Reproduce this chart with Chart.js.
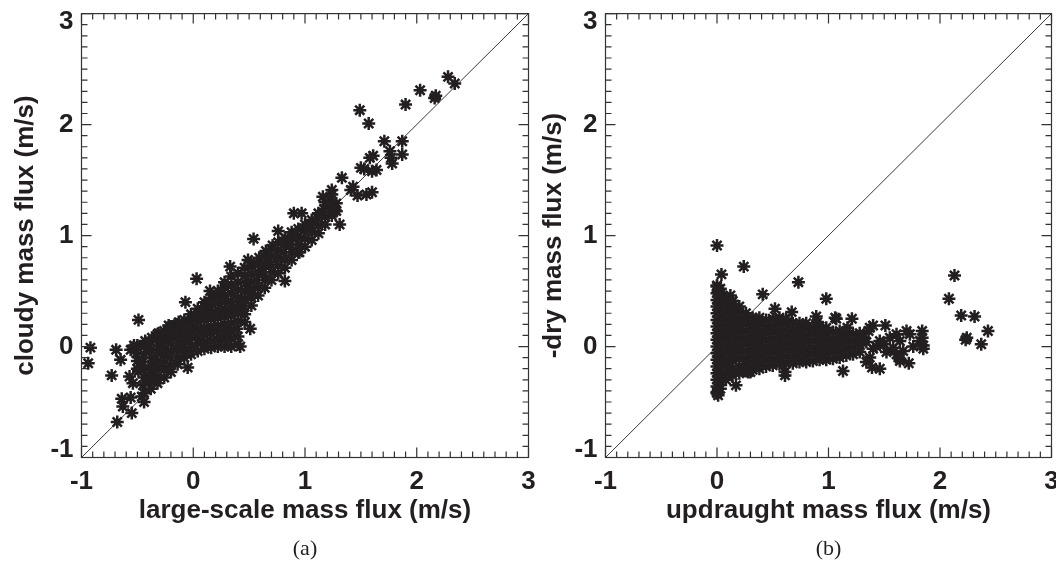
<!DOCTYPE html>
<html>
<head>
<meta charset="utf-8">
<script src="https://cdn.jsdelivr.net/npm/chart.js@4.4.1/dist/chart.umd.min.js"></script>
<style>
  html, body { margin: 0; padding: 0; background: #fff; overflow: hidden; width: 1056px; height: 564px; position: relative; }
  #chartA { position: absolute; left: 0; top: -10px; }
  #chartB { position: absolute; left: 524px; top: -10px; }
</style>
</head>
<body>
<canvas id="chartA" width="552" height="574"></canvas>
<canvas id="chartB" width="560" height="574"></canvas>
<script>
// axes
var axisMin = -1;
var axisMax = 3;
var tickValues = [-1, 0, 1, 2, 3];
var oneToOne = [[-1, -1], [3, 3]];

// (a) large-scale mass flux vs cloudy mass flux, [x, y]
var cloudyCore = [
  [-0.50,-0.20],[-0.50,-0.13],[-0.51,-0.06],[-0.50,0.01],
  [-0.44,-0.42],[-0.45,-0.35],[-0.44,-0.28],[-0.44,-0.21],[-0.45,-0.14],[-0.44,-0.07],[-0.44,0.00],[-0.43,0.05],
  [-0.38,-0.38],[-0.39,-0.31],[-0.38,-0.24],[-0.38,-0.17],[-0.37,-0.10],[-0.38,-0.03],[-0.38,0.04],[-0.37,0.08],
  [-0.32,-0.33],[-0.32,-0.27],[-0.33,-0.20],[-0.32,-0.13],[-0.32,-0.06],[-0.31,0.01],[-0.32,0.07],[-0.32,0.11],
  [-0.26,-0.28],[-0.26,-0.21],[-0.27,-0.15],[-0.26,-0.08],[-0.26,-0.02],[-0.25,0.05],[-0.26,0.11],[-0.26,0.14],
  [-0.20,-0.23],[-0.20,-0.17],[-0.21,-0.10],[-0.20,-0.04],[-0.20,0.03],[-0.19,0.09],[-0.20,0.15],
  [-0.14,-0.16],[-0.14,-0.10],[-0.15,-0.03],[-0.14,0.03],[-0.14,0.10],[-0.13,0.16],[-0.14,0.20],
  [-0.08,-0.10],[-0.08,-0.04],[-0.09,0.02],[-0.08,0.09],[-0.08,0.15],[-0.07,0.21],[-0.08,0.24],
  [-0.02,-0.07],[-0.02,0.00],[-0.03,0.06],[-0.02,0.13],[-0.02,0.19],[-0.01,0.25],[-0.02,0.29],
  [0.04,-0.04],[0.04,0.03],[0.03,0.09],[0.04,0.16],[0.04,0.22],[0.05,0.28],[0.04,0.34],
  [0.10,-0.02],[0.10,0.04],[0.09,0.11],[0.10,0.17],[0.10,0.24],[0.11,0.30],[0.10,0.36],[0.10,0.40],
  [0.16,-0.01],[0.16,0.05],[0.15,0.12],[0.16,0.18],[0.16,0.25],[0.17,0.31],[0.16,0.38],[0.16,0.44],
  [0.22,0.00],[0.22,0.06],[0.21,0.13],[0.22,0.19],[0.22,0.26],[0.23,0.32],[0.22,0.39],[0.22,0.45],[0.22,0.50],
  [0.28,0.00],[0.28,0.07],[0.27,0.13],[0.28,0.20],[0.28,0.27],[0.29,0.33],[0.28,0.40],[0.28,0.46],[0.28,0.53],[0.28,0.58],
  [0.34,0.00],[0.34,0.07],[0.33,0.14],[0.34,0.21],[0.34,0.28],[0.35,0.34],[0.34,0.41],[0.34,0.48],[0.34,0.55],[0.34,0.63],
  [0.40,0.02],[0.40,0.09],[0.39,0.16],[0.40,0.23],[0.40,0.30],[0.41,0.37],[0.40,0.44],[0.40,0.51],[0.40,0.58],[0.40,0.66],
  [0.46,0.22],[0.46,0.29],[0.45,0.36],[0.46,0.43],[0.46,0.50],[0.47,0.57],[0.46,0.64],[0.46,0.71],
  [0.52,0.37],[0.52,0.44],[0.51,0.51],[0.52,0.58],[0.52,0.65],[0.53,0.72],[0.52,0.76],
  [0.58,0.46],[0.58,0.53],[0.57,0.60],[0.58,0.67],[0.58,0.74],[0.59,0.80],
  [0.64,0.53],[0.64,0.60],[0.63,0.67],[0.64,0.74],[0.64,0.81],[0.65,0.86],
  [0.70,0.60],[0.70,0.67],[0.69,0.74],[0.70,0.81],[0.70,0.88],[0.71,0.91],
  [0.76,0.66],[0.76,0.73],[0.75,0.80],[0.76,0.87],[0.76,0.94],
  [0.82,0.71],[0.82,0.78],[0.81,0.85],[0.82,0.92],[0.82,0.98],
  [0.88,0.78],[0.88,0.85],[0.87,0.92],[0.88,0.99],[0.88,1.03],
  [0.94,0.85],[0.94,0.92],[0.93,0.99],[0.94,1.06],
  [1.00,0.90],[1.00,0.97],[0.99,1.04],[1.00,1.10],
  [1.06,0.96],[1.06,1.03],[1.05,1.10],[1.06,1.14],
  [1.12,1.02],[1.12,1.09],[1.11,1.16],[1.12,1.20],
  [1.18,1.10],[1.18,1.17],[1.17,1.24],[1.18,1.30],
  [1.24,1.18],[1.24,1.25],[1.23,1.32],[1.24,1.37],
  [1.28,1.22],[1.28,1.29]
];
var cloudyOutliers = [
  [-0.92,-0.01],[-0.94,-0.15],[-0.69,-0.03],[-0.73,-0.26],[-0.65,-0.12],[-0.49,0.24],
  [-0.57,-0.27],[-0.49,-0.22],[-0.54,-0.33],[-0.64,-0.47],[-0.56,-0.46],[-0.63,-0.54],
  [-0.55,-0.60],[-0.68,-0.68],[-0.56,-0.03],[-0.53,0.01],[-0.46,-0.45],[-0.44,-0.50],
  [-0.07,0.40],[0.03,0.61],[0.15,0.50],[-0.13,0.22],[-0.20,0.18],[-0.31,0.12],[-0.22,0.19],
  [-0.05,-0.19],[0.42,0.00],[0.51,0.16],[0.54,0.97],[0.49,0.78],[0.33,0.72],[0.76,1.04],
  [0.82,0.59],[0.95,0.85],[0.97,1.20],[0.90,1.20],[1.16,1.35],[1.24,1.41],[1.31,1.10],
  [1.27,1.23],[1.33,1.52],[1.43,1.44],[1.41,1.41],[1.47,1.36],[1.55,1.37],[1.60,1.39],
  [1.50,1.61],[1.53,1.60],[1.60,1.58],[1.64,1.59],[1.61,1.72],[1.58,1.70],[1.71,1.85],
  [1.76,1.76],[1.78,1.65],[1.77,1.70],[1.87,1.85],[1.87,1.73],[1.49,2.13],[1.57,2.01],
  [1.90,2.18],[2.03,2.31],[2.16,2.24],[2.17,2.26],[2.28,2.43],[2.34,2.37]
];

// (b) updraught mass flux vs -dry mass flux, [x, y]
var dryCore = [
  [0.00,-0.42],[0.00,-0.36],[0.00,-0.30],[0.00,-0.24],[0.00,-0.18],[0.00,-0.12],[0.00,-0.06],[0.00,0.00],[0.00,0.06],
  [0.00,0.12],[0.00,0.18],[0.00,0.24],[0.00,0.30],[0.00,0.36],[0.00,0.42],[0.00,0.48],[0.00,0.54],
  [0.03,-0.38],[0.03,-0.31],[0.03,-0.25],[0.03,-0.19],[0.03,-0.13],[0.03,-0.07],[0.03,-0.01],[0.03,0.05],
  [0.03,0.11],[0.03,0.17],[0.03,0.23],[0.03,0.29],[0.03,0.35],[0.03,0.41],[0.03,0.47],[0.03,0.52],
  [0.08,-0.30],[0.08,-0.24],[0.08,-0.17],[0.08,-0.11],[0.08,-0.05],[0.08,0.01],[0.08,0.07],[0.08,0.13],[0.08,0.19],[0.08,0.25],[0.08,0.31],[0.08,0.37],[0.08,0.43],
  [0.14,-0.26],[0.14,-0.20],[0.14,-0.13],[0.14,-0.07],[0.14,-0.01],[0.14,0.05],[0.14,0.11],[0.14,0.17],[0.14,0.23],[0.14,0.29],[0.14,0.35],[0.14,0.41],
  [0.20,-0.24],[0.20,-0.18],[0.20,-0.11],[0.20,-0.05],[0.20,0.01],[0.20,0.07],[0.20,0.13],[0.20,0.19],[0.20,0.25],[0.20,0.31],[0.20,0.36],
  [0.26,-0.22],[0.26,-0.16],[0.26,-0.10],[0.26,-0.04],[0.26,0.02],[0.26,0.08],[0.26,0.14],[0.26,0.20],[0.26,0.26],[0.26,0.30],
  [0.32,-0.21],[0.32,-0.15],[0.32,-0.09],[0.32,-0.03],[0.32,0.03],[0.32,0.09],[0.32,0.15],[0.32,0.21],[0.32,0.26],
  [0.38,-0.20],[0.38,-0.14],[0.38,-0.08],[0.38,-0.02],[0.38,0.04],[0.38,0.10],[0.38,0.16],[0.38,0.22],[0.38,0.26],
  [0.44,-0.18],[0.44,-0.12],[0.44,-0.06],[0.44,0.00],[0.44,0.06],[0.44,0.12],[0.44,0.18],[0.44,0.24],
  [0.50,-0.17],[0.50,-0.11],[0.50,-0.05],[0.50,0.01],[0.50,0.07],[0.50,0.13],[0.50,0.19],[0.50,0.25],
  [0.56,-0.16],[0.56,-0.10],[0.56,-0.04],[0.56,0.02],[0.56,0.08],[0.56,0.14],[0.56,0.20],[0.56,0.26],
  [0.62,-0.15],[0.62,-0.09],[0.62,-0.03],[0.62,0.03],[0.62,0.09],[0.62,0.15],[0.62,0.21],[0.62,0.25],
  [0.68,-0.15],[0.68,-0.09],[0.68,-0.03],[0.68,0.03],[0.68,0.09],[0.68,0.15],[0.68,0.21],
  [0.74,-0.14],[0.74,-0.08],[0.74,-0.02],[0.74,0.04],[0.74,0.10],[0.74,0.16],[0.74,0.21],
  [0.80,-0.14],[0.80,-0.08],[0.80,-0.02],[0.80,0.04],[0.80,0.10],[0.80,0.16],[0.80,0.21],
  [0.86,-0.13],[0.86,-0.07],[0.86,-0.01],[0.86,0.05],[0.86,0.11],[0.86,0.17],
  [0.92,-0.12],[0.92,-0.06],[0.92,0.00],[0.92,0.06],[0.92,0.12],[0.92,0.18],
  [0.98,-0.12],[0.98,-0.06],[0.98,0.00],[0.98,0.06],[0.98,0.12],[0.98,0.17],
  [1.04,-0.11],[1.04,-0.05],[1.04,0.01],[1.04,0.07],[1.04,0.13],
  [1.10,-0.10],[1.10,-0.04],[1.10,0.02],[1.10,0.08],[1.10,0.14],
  [1.16,-0.08],[1.16,-0.02],[1.16,0.04],[1.16,0.10],[1.16,0.14],
  [1.22,-0.07],[1.22,-0.01],[1.22,0.05],[1.22,0.11],
  [1.28,-0.05],[1.28,0.01],[1.28,0.07],[1.28,0.12]
];
var dryOutliers = [
  [0.00,0.91],[0.04,0.65],[0.24,0.72],[0.73,0.58],[0.41,0.47],[0.98,0.43],[0.52,0.34],
  [0.67,0.31],[0.89,0.27],[1.06,0.26],[1.07,0.25],[1.21,0.25],[1.17,0.17],[0.90,0.22],
  [1.51,0.19],[1.40,0.19],[1.36,0.14],[1.31,0.08],[1.46,0.05],[1.43,0.00],[1.37,0.17],
  [1.34,0.04],[1.40,-0.02],[1.50,0.02],[1.52,-0.05],[1.55,0.08],
  [1.61,0.11],[1.64,0.05],[1.70,0.14],[1.73,0.11],[1.58,-0.01],[1.61,-0.07],[1.64,-0.11],
  [1.67,-0.04],[1.76,0.00],[1.82,0.05],[1.84,0.14],[1.85,0.01],[1.85,-0.02],[1.84,0.08],
  [1.72,-0.15],[1.64,-0.13],[1.46,-0.20],[1.37,-0.10],[1.34,-0.14],[1.39,-0.19],[1.13,-0.22],
  [0.61,-0.23],[0.61,-0.26],[0.30,-0.23],[0.28,-0.23],[0.17,-0.35],[0.00,-0.41],[0.01,-0.44],
  [0.12,0.46],[0.14,0.41],[0.00,0.55],[0.01,0.50],
  [2.13,0.64],[2.08,0.43],[2.19,0.28],[2.31,0.27],[2.43,0.14],[2.24,0.08],[2.23,0.06],[2.37,0.02]
];

var ink = "#231f20";
var sans = "'Liberation Sans', Arial, sans-serif";
var serif = "'Liberation Serif', 'Times New Roman', serif";

function toXY(pairs) {
  return pairs.map(function (p) {
    return { x: p[0], y: p[1] };
  });
}

// frame with inward ticks on all four sides, as in the IDL plots
var inwardTicks = {
  id: "inwardTicks",
  afterDatasetsDraw: function (chart) {
    var ctx = chart.ctx;
    var a = chart.chartArea;
    var xs = chart.scales.x;
    var ys = chart.scales.y;
    ctx.save();
    ctx.strokeStyle = "#333";
    ctx.lineWidth = 1.2;
    ctx.strokeRect(a.left, a.top, a.right - a.left, a.bottom - a.top);
    ctx.beginPath();
    var steps = (axisMax - axisMin) * 10;
    for (var i = 0; i <= steps; i++) {
      var v = axisMin + i / 10;
      var len = i % 10 === 0 ? 10 : 6;
      var px = xs.getPixelForValue(v);
      var py = ys.getPixelForValue(v);
      ctx.moveTo(px, a.bottom);
      ctx.lineTo(px, a.bottom - len);
      ctx.moveTo(px, a.top);
      ctx.lineTo(px, a.top + len);
      ctx.moveTo(a.left, py);
      ctx.lineTo(a.left + len, py);
      ctx.moveTo(a.right, py);
      ctx.lineTo(a.right - len, py);
    }
    ctx.stroke();
    ctx.restore();
  },
};

// end labels on the y axis sit a little inside the frame, like IDL does
function yTickLabel(value) {
  if (value === axisMax) return ["", String(value)];
  if (value === axisMin) return [String(value), ""];
  return String(value);
}

// canvases sit 10px above the page top, so page y = local y - 10
function makeChart(canvasId, points, xTitle, yTitle, caption, yTitleGap, rightPad) {
  var ctx = document.getElementById(canvasId).getContext("2d");
  return new Chart(ctx, {
    data: {
      datasets: [
        {
          type: "scatter",
          data: toXY(points),
          pointStyle: "star",
          pointRadius: 6.5,
          pointHoverRadius: 6.5,
          pointBorderWidth: 2.5,
          pointBorderColor: ink,
          pointBackgroundColor: ink,
        },
        {
          type: "line",
          data: toXY(oneToOne),
          borderColor: "#3a3a3a",
          borderWidth: 1,
          pointRadius: 0,
          fill: false,
        },
      ],
    },
    options: {
      responsive: false,
      animation: false,
      devicePixelRatio: 1,
      events: [],
      layout: {
        padding: { top: 21.5, right: rightPad, bottom: 0, left: 0 },
      },
      scales: {
        x: {
          type: "linear",
          min: axisMin,
          max: axisMax,
          afterBuildTicks: function (s) {
            s.ticks = tickValues.map(function (v) { return { value: v }; });
          },
          afterFit: function (s) {
            s.height = 78.3;
          },
          grid: { display: false, drawTicks: false },
          border: { display: false },
          ticks: {
            color: ink,
            padding: 11.5,
            maxRotation: 0,
            autoSkip: false,
            font: { family: sans, size: 26, weight: "bold", lineHeight: 1 },
          },
          title: {
            display: true,
            text: xTitle,
            color: ink,
            padding: { top: 0, bottom: 9.2 },
            font: { family: sans, size: 26, weight: "bold", lineHeight: 1.2 },
          },
        },
        y: {
          type: "linear",
          min: axisMin,
          max: axisMax,
          afterBuildTicks: function (s) {
            s.ticks = tickValues.map(function (v) { return { value: v }; });
          },
          afterFit: function (s) {
            s.width = 81.5;
          },
          grid: { display: false, drawTicks: false },
          border: { display: false },
          ticks: {
            color: ink,
            padding: 8,
            autoSkip: false,
            callback: yTickLabel,
            font: { family: sans, size: 26, weight: "bold", lineHeight: 0.6 },
          },
          title: {
            display: true,
            text: yTitle,
            color: ink,
            padding: { top: yTitleGap, bottom: 0 },
            font: { family: sans, size: 26, weight: "bold", lineHeight: 1.2 },
          },
        },
      },
      plugins: {
        legend: { display: false },
        tooltip: { enabled: false },
        title: {
          display: true,
          position: "bottom",
          fullSize: false,
          text: caption,
          color: ink,
          padding: { top: 0, bottom: 1.8 },
          font: { family: serif, size: 22, weight: "normal", lineHeight: 1.2 },
        },
      },
    },
    plugins: [inwardTicks],
  });
}

makeChart("chartA", cloudyCore.concat(cloudyOutliers),
  "large-scale mass flux (m/s)", "cloudy mass flux (m/s)", "(a)", 10.4, 23.5);
makeChart("chartB", dryCore.concat(dryOutliers),
  "updraught mass flux (m/s)", "-dry mass flux (m/s)", "(b)", 14.4, 32.5);
</script>
</body>
</html>
